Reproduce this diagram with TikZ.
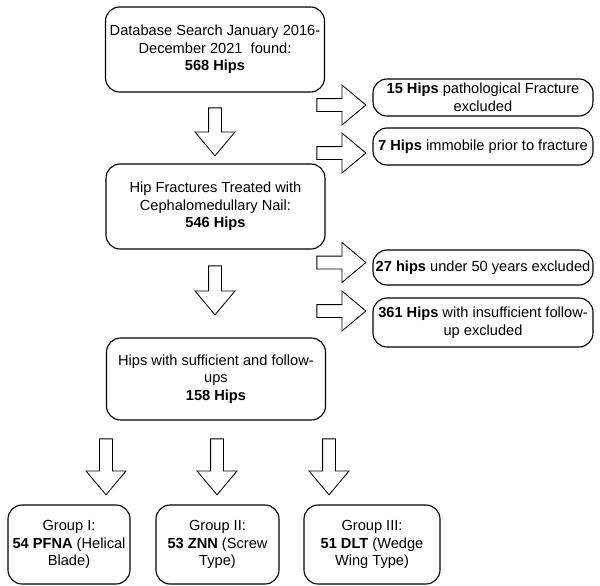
\documentclass[tikz,border=0pt]{standalone}
\usepackage{fontspec}
\setmainfont{Liberation Sans}
\usetikzlibrary{shapes.arrows}

\begin{document}
\begin{tikzpicture}[x=0.025cm,y=-0.025cm,
  box/.style={draw,rounded corners=10,line width=0.8pt,align=center,
    font=\fontsize{10.4}{12.5}\selectfont,inner sep=1pt},
  bigarrow/.style={draw,single arrow,line width=0.6pt,inner sep=0.15cm,
    single arrow head extend=0.34cm,single arrow tip angle=80,
    single arrow head indent=0pt},
  downarrow/.style={bigarrow,shape border rotate=270}]
\useasboundingbox (0,0) rectangle (600,586);
% main boxes
\node [box,minimum width=219*0.025cm,minimum height=85*0.025cm] (search) at (215,49.5)
  {Database Search January 2016-\\December 2021\ \ found:\\\textbf{568 Hips}};
\node [box,minimum width=219*0.025cm,minimum height=85*0.025cm] (nail) at (215.5,206.5)
  {Hip Fractures Treated with\\Cephalomedullary Nail:\\\textbf{546 Hips}};
\node [box,minimum width=219*0.025cm,minimum height=82*0.025cm] (followup) at (216,379)
  {Hips with sufficient and follow-\\ups\\\textbf{158 Hips}};
% excluded boxes
\node [box,minimum width=220*0.025cm,minimum height=37*0.025cm] (excl1) at (483,97.5)
  {\textbf{15 Hips} pathological Fracture\\excluded};
\node [box,minimum width=220*0.025cm,minimum height=37*0.025cm] (excl2) at (483,146.5)
  {\textbf{7 Hips} immobile prior to fracture};
\node [box,minimum width=220*0.025cm,minimum height=35*0.025cm] (excl3) at (483,267.5)
  {\textbf{27 hips} under 50 years excluded};
\node [box,minimum width=220*0.025cm,minimum height=49*0.025cm] (excl4) at (483,322.5)
  {\textbf{361 Hips} with insufficient follow-\\up excluded};
% groups
\node [box,minimum width=122*0.025cm,minimum height=79*0.025cm] (groupI) at (69,544.5)
  {Group I:\\\textbf{54 PFNA} (Helical\\Blade)};
\node [box,minimum width=123*0.025cm,minimum height=79*0.025cm] (groupII) at (217.5,544.5)
  {Group II:\\\textbf{53 ZNN} (Screw\\Type)};
\node [box,minimum width=136*0.025cm,minimum height=79*0.025cm] (groupIII) at (372,544.5)
  {Group III:\\\textbf{51 DLT} (Wedge\\Wing Type)};
% block arrows
\node [downarrow,minimum height=48*0.025cm] (down1) at (215,128) {};
\node [downarrow,minimum height=49*0.025cm] (down2) at (215,286.5) {};
\foreach \nm/\ypos in {right1/105,right2/153,right3/262.5,right4/311}
  {\node [bigarrow,minimum height=49*0.025cm] (\nm) at (337.5,\ypos) {};}
\foreach \nm/\xpos in {toI/106,toII/217,toIII/329}
  {\node [downarrow,minimum height=56*0.025cm] (\nm) at (\xpos,463) {};}
\end{tikzpicture}
\end{document}
